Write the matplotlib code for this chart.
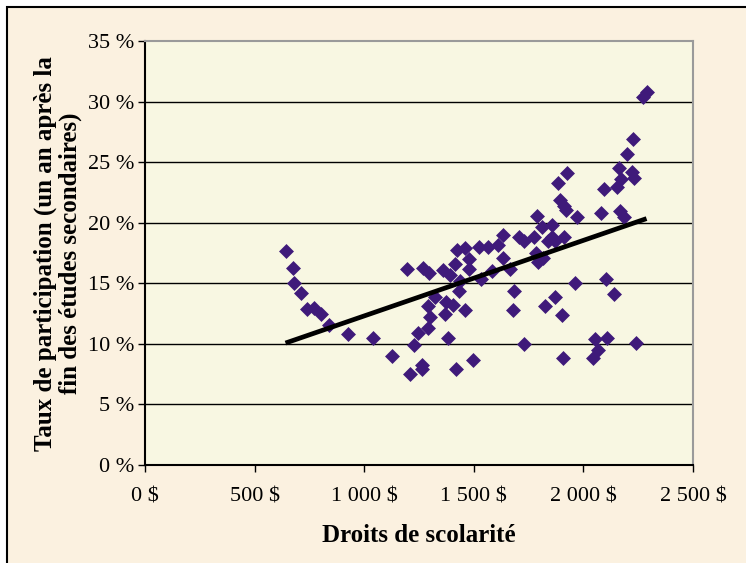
import numpy as np
import matplotlib
matplotlib.use("Agg")
import matplotlib.pyplot as plt
from matplotlib.patches import Rectangle

# tuition fees ($) and participation rate (%)
droits = [641, 674, 682, 711, 739, 771, 802, 841, 927, 1040,
          1127, 1194, 1209, 1226, 1246, 1263, 1265, 1270, 1295, 1291,
          1300, 1291, 1322, 1360, 1371, 1367, 1382, 1393, 1404, 1415,
          1425, 1432, 1421, 1436, 1458, 1458, 1480, 1480, 1497, 1523,
          1534, 1566, 1584, 1610, 1631, 1631, 1664, 1685, 1681, 1707,
          1729, 1729, 1776, 1787, 1783, 1794, 1811, 1815, 1826, 1837,
          1859, 1859, 1870, 1870, 1885, 1891, 1913, 1924, 1919, 1913,
          1902, 1906, 1961, 1971, 2043, 2054, 2065, 2080, 2093, 2101,
          2108, 2141, 2152, 2162, 2167, 2173, 2184, 2201, 2223, 2231,
          2227, 2238, 2270, 2288]
taux = [17.7, 16.3, 15.0, 14.2, 12.9, 13.0, 12.5, 11.6, 10.8, 10.5,
        9.0, 16.2, 7.5, 9.9, 10.9, 7.9, 8.3, 16.3, 15.9, 13.1,
        12.2, 11.3, 13.9, 16.1, 13.5, 12.5, 10.5, 15.7, 13.2, 16.6,
        17.8, 14.4, 7.9, 15.2, 17.9, 12.8, 17.0, 16.2, 8.7, 18.0,
        15.4, 18.0, 16.0, 18.2, 19.0, 17.1, 16.2, 14.4, 12.8, 18.8,
        18.5, 10.0, 18.8, 20.6, 17.5, 16.8, 19.7, 17.1, 13.1, 18.5,
        19.8, 18.8, 18.5, 13.9, 23.3, 21.9, 21.4, 24.1, 21.1, 18.8,
        12.4, 8.8, 15.0, 20.5, 8.8, 10.4, 9.5, 20.8, 22.8, 15.4,
        10.5, 14.1, 23.0, 24.5, 21.0, 23.6, 20.5, 25.7, 24.2, 23.7,
        26.9, 10.1, 30.4, 30.8]

x_ticks = [0, 500, 1000, 1500, 2000, 2500]
x_labels = ["0 $", "500 $", "1 000 $", "1 500 $", "2 000 $", "2 500 $"]
y_ticks = [0, 5, 10, 15, 20, 25, 30, 35]
y_labels = ["%d %%" % v for v in y_ticks]

plt.rcParams['font.family'] = ['Liberation Serif', 'DejaVu Serif']

fig = plt.figure(figsize=(7.46, 5.63), dpi=100, facecolor="white")

# cream page with black frame on top and left
fig.patches.append(Rectangle((7 / 746, -0.1), 1.2, 1 - 7 / 563 + 0.1,
                             transform=fig.transFigure, facecolor="#FBF1E0",
                             edgecolor="black", linewidth=1.5, zorder=-5))

ax = fig.add_axes([145 / 746, 1 - 465 / 563, 548 / 746, (465 - 41.3) / 563])
ax.set_facecolor("#F8F7E2")

ax.scatter(droits, taux, marker="D", s=58, color="#3F1A7A", zorder=3,
           linewidths=0)

# linear trend line
a, b = np.polyfit(droits, taux, 1)
xs = np.array([min(droits), max(droits)])
ax.plot(xs, a * xs + b, color="black", linewidth=3.4, zorder=4,
        solid_capstyle="butt")

ax.set_xlim(0, 2500)
ax.set_ylim(0, 35)
ax.set_xticks(x_ticks)
ax.set_xticklabels(x_labels)
ax.set_yticks(y_ticks)
ax.set_yticklabels(y_labels)
ax.tick_params(direction="out", length=5, width=1, labelsize=16,
               colors="black")
ax.tick_params(axis="x", pad=11)
ax.tick_params(axis="y", pad=3)

for v in y_ticks[1:-1]:
    ax.axhline(v, color="black", linewidth=1, zorder=1)

ax.spines["left"].set_color("black")
ax.spines["bottom"].set_color("black")
ax.spines["top"].set_color("#9A9A9A")
ax.spines["right"].set_color("#9A9A9A")
for s in ax.spines.values():
    s.set_linewidth(1.5)

ax.set_xlabel("Droits de scolarité", fontsize=18, fontweight="bold",
              labelpad=13)
ax.set_ylabel("Taux de participation (un an après la\nfin des études secondaires)",
              fontsize=18, fontweight="bold", labelpad=4, linespacing=1.1)

fig.savefig("out.png", dpi=100, facecolor=fig.get_facecolor())
